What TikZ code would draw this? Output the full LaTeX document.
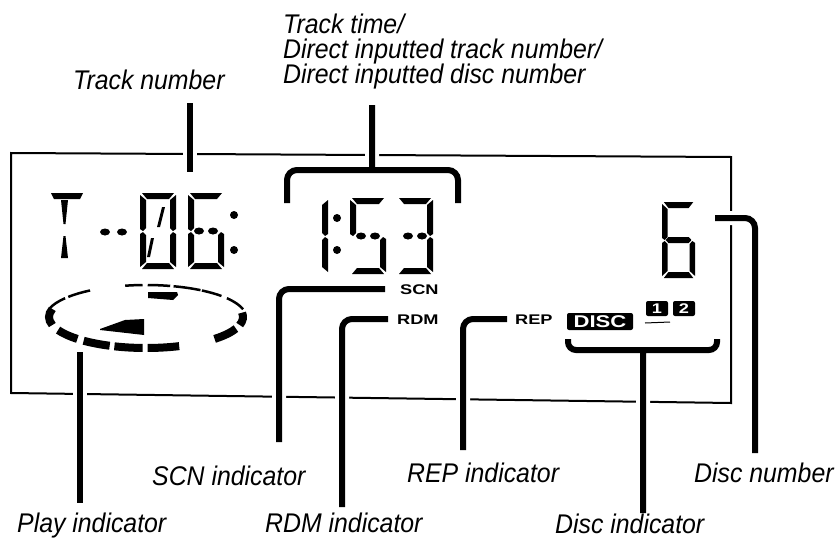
\documentclass[tikz,border=0pt]{standalone}
\usepackage{fontspec}
\setmainfont{Liberation Sans}
\newfontfamily\lcdfont{Liberation Sans}[FakeStretch=1.3]
\newfontfamily\lblfont{Liberation Sans}[FakeStretch=0.92]

% seven segment pieces, top left corner of a digit at (0,0)
\newcommand{\lcdA}{\fill (2,0) -- (34,0) -- (29,6) -- (7,6) -- cycle;}
\newcommand{\lcdB}{\fill (36,2) -- (36,36) -- (33,38) -- (30,35) -- (30,7) -- cycle;}
\newcommand{\lcdC}{\fill (33,39) -- (36,41) -- (36,74) -- (30,69) -- (30,42) -- cycle;}
\newcommand{\lcdD}{\fill (7,70) -- (29,70) -- (34,76) -- (2,76) -- cycle;}
\newcommand{\lcdE}{\fill (3,39) -- (6,42) -- (6,69) -- (0,74) -- (0,41) -- cycle;}
\newcommand{\lcdF}{\fill (0,2) -- (6,7) -- (6,35) -- (3,38) -- (0,36) -- cycle;}
\newcommand{\lcdG}{\fill (4,38) -- (7,35) -- (29,35) -- (32,38) -- (29,41) -- (7,41) -- cycle;}
\newcommand{\lcdDots}{\fill (11,38) ellipse[x radius=5, y radius=3.5] (25,38) ellipse[x radius=5, y radius=3.5];}

\begin{document}
\begin{tikzpicture}[x=1pt, y=-1pt,
        lbl/.style={inner sep=0pt, anchor=base west,
        font=\lblfont\itshape\fontsize{27}{27}\selectfont},
        ind/.style={inner sep=0pt, anchor=west,
        font=\lcdfont\bfseries\fontsize{14}{14}\selectfont},
        tag/.style={fill=black, text=white, rounded corners=2pt, inner sep=0pt},
        leader/.style={line width=6pt, rounded corners=10pt,
        preaction={draw=white, line width=14pt}},
        thinarc/.style={line width=2.5pt},
        thickarc/.style={line width=8pt}
        ]
    \fill[white] (0,0) rectangle (838,546);
    \useasboundingbox (0,0) rectangle (838,546);

    % display frame
    \draw[line width=2pt] (11,153) -- (731,157) -- (731,403) -- (11,393) -- cycle;

    % T --
    \fill (51,193) -- (83,193) -- (80,199) -- (54,199) -- cycle;
    \fill (61,200) -- (68,200) -- (65.5,224) -- (63.5,224) -- cycle;
    \fill (63.5,236) -- (65.5,236) -- (68,258) -- (61,258) -- cycle;
    \fill (105,232) ellipse[x radius=5, y radius=3.5] (122,232) ellipse[x radius=5, y radius=3.5];

    % track number 06
    \begin{scope}[shift={(140,193)}]
        \lcdA \lcdB \lcdC \lcdD \lcdE \lcdF
        \fill (22,14) -- (25,14) -- (20,34) -- (17,34) -- cycle;
        \fill (11,45) -- (14,45) -- (10,64) -- (7,64) -- cycle;
    \end{scope}
    \begin{scope}[shift={(188,193)}]
        \lcdA \lcdC \lcdD \lcdE \lcdF \lcdDots
    \end{scope}
    \fill (234,215) circle[radius=4] (234,250) circle[radius=4];

    % track time 1:53
    \begin{scope}[shift={(292,198)}]
        \lcdB \lcdC
    \end{scope}
    \fill (337,218) circle[radius=4] (337,250) circle[radius=4];
    \begin{scope}[shift={(350,198)}]
        \lcdA \lcdC \lcdD \lcdF \lcdDots
    \end{scope}
    \begin{scope}[shift={(397,198)}]
        \lcdA \lcdB \lcdC \lcdD \lcdDots
    \end{scope}

    % disc number 6
    \begin{scope}[shift={(662,202)}, xscale=0.92]
        \lcdA \lcdC \lcdD \lcdE \lcdF \lcdG
    \end{scope}

    % play indicator ring
    \foreach \a/\b in {196/216, 219/236, 258/268, 271/284, 286/303, 304/319, 324/346}
        \draw[thinarc] (146,317) ++(\a:100 and 32) arc[start angle=\a, end angle=\b, x radius=100, y radius=32];
    \foreach \a/\b in {195/165, 155/135, 130/112, 109/92, 89/70, 45/22, 15/-8}
        \draw[thickarc] (146,317) ++(\a:97 and 31) arc[start angle=\a, end angle=\b, x radius=97, y radius=31];
    \fill (148,292) -- (177,292) -- (178,295) -- (173,300) -- (148,298) -- cycle;
    \fill (100,329) -- (125,320) -- (144,319) -- (144,335) -- (100,330) -- cycle;

    % indicators
    \node[ind] (scn) at (400,290) {SCN};
    \node[ind] (rdm) at (397,320) {RDM};
    \node[ind] (rep) at (515,320) {REP};
    \node[tag, minimum width=66pt, minimum height=17pt,
        font=\lcdfont\bfseries\fontsize{17}{17}\selectfont] (disc) at (600,321.5) {DISC};
    \node[tag, minimum width=22pt, minimum height=15pt,
        font=\lcdfont\bfseries\fontsize{14}{14}\selectfont] (one) at (657,308.5) {1};
    \node[tag, minimum width=22pt, minimum height=15pt,
        font=\lcdfont\bfseries\fontsize{14}{14}\selectfont] (two) at (684,308.5) {2};
    \draw[line width=1pt] (645,323) -- (670,322);

    % labels
    \node[lbl] (tracknum) at (73,89) {Track number};
    \node[lbl] (tt1) at (283,33) {Track time/};
    \node[lbl] (tt2) at (283,58) {Direct inputted track number/};
    \node[lbl] (tt3) at (283,83) {Direct inputted disc number};
    \node[lbl] (playlbl) at (17,532) {Play indicator};
    \node[lbl] (scnlbl) at (152,485) {SCN indicator};
    \node[lbl] (rdmlbl) at (265,532) {RDM indicator};
    \node[lbl] (replbl) at (407,482) {REP indicator};
    \node[lbl] (disclbl) at (555,533) {Disc indicator};
    \node[lbl] (discnumlbl) at (694,482) {Disc number};

    % leader ends
    \coordinate (tn-top) at (190,103);
    \coordinate (tn-end) at (190,172);
    \coordinate (tt-top) at (372,105);
    \coordinate (tt-mid) at (372,170);
    \coordinate (tt-l) at (287,203);
    \coordinate (tt-r) at (458,203);
    \coordinate (play-top) at (80,352);
    \coordinate (play-end) at (80,503);
    \coordinate (scn-start) at (385,289);
    \coordinate (scn-end) at (279,442);
    \coordinate (rdm-start) at (388,319);
    \coordinate (rdm-end) at (342,507);
    \coordinate (rep-start) at (507,319);
    \coordinate (rep-end) at (463,450);
    \coordinate (di-l) at (568,339);
    \coordinate (di-r) at (717,339);
    \coordinate (di-mid) at (643,350);
    \coordinate (di-end) at (643,513);
    \coordinate (dn-start) at (715,218);
    \coordinate (dn-end) at (755,453);

    % leaders
    \draw[leader] (tn-top) -- (tn-end);
    \draw[leader] (tt-top) -- (tt-mid) (tt-l) -- (tt-l |- tt-mid) -- (tt-r |- tt-mid) -- (tt-r);
    \draw[leader] (play-top) -- (play-end);
    \draw[leader] (scn-start) -| (scn-end);
    \draw[leader] (rdm-start) -| (rdm-end);
    \draw[leader] (rep-start) -| (rep-end);
    \draw[leader, rounded corners=8pt] (di-end) -- (di-mid) (di-l) -- (di-l |- di-mid) -- (di-r |- di-mid) -- (di-r);
    \draw[leader] (dn-start) -| (dn-end);
\end{tikzpicture}
\end{document}
